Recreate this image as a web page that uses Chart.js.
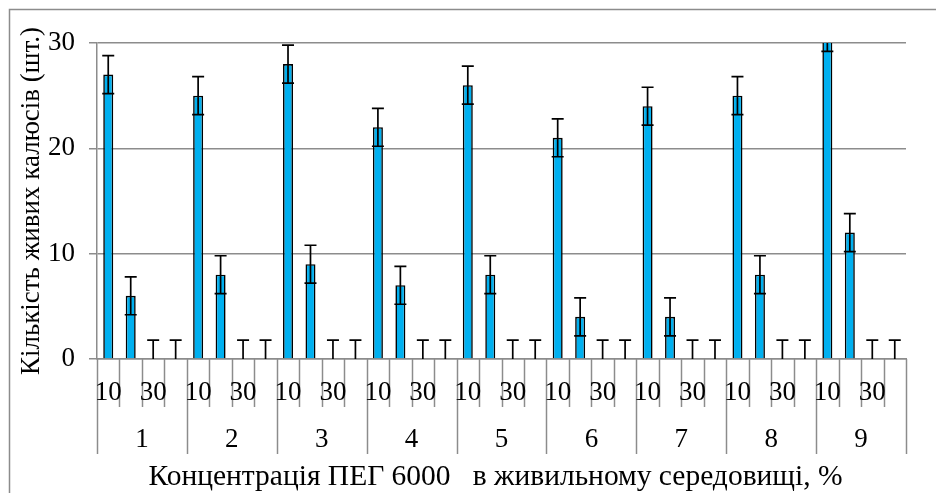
<!DOCTYPE html>
<html><head><meta charset="utf-8">
<script src="https://cdn.jsdelivr.net/npm/chart.js@4/dist/chart.umd.min.js"></script>
<style>html,body{margin:0;padding:0;background:#fff}#wrap{width:936px;height:493px;position:relative}</style>
</head><body><div id="wrap"><canvas id="c"></canvas></div>
<script>
const groups = ['1','2','3','4','5','6','7','8','9'];
const concentrations = ['10','20','30','40'];
const shownConcentrationLabels = ['10','30'];
const count10 = [27,25,28,22,26,21,24,25,31];
const count20 = [6,8,9,7,8,4,4,8,12];
const count30 = [0,0,0,0,0,0,0,0,0];
const count40 = [0,0,0,0,0,0,0,0,0];
const err10 = [1.8,1.8,1.8,1.8,1.8,1.8,1.8,1.8,1.8];
const err20 = [1.8,1.8,1.8,1.8,1.8,1.8,1.8,1.8,1.8];
const err30 = [1.8,1.8,1.8,1.8,1.8,1.8,1.8,1.8,1.8];
const err40 = [1.8,1.8,1.8,1.8,1.8,1.8,1.8,1.8,1.8];
const yTicks = [0,10,20,30];
const xTitle = 'Концентрація ПЕГ 6000   в живильному середовищі, %';
const yTitle = 'Кількість живих калюсів (шт.)';

const seriesByConc = [count10, count20, count30, count40];
const errByConc = [err10, err20, err30, err40];
const labels = [], values = [], errors = [], groupOf = [];
groups.forEach((g, gi) => {
  concentrations.forEach((c, ci) => {
    labels.push(c);
    values.push(seriesByConc[ci][gi]);
    errors.push(errByConc[ci][gi]);
    groupOf.push(g);
  });
});

const SERIF = "'Liberation Serif','Times New Roman',serif";
const GRAY = '#8c8c8c';

const framePlugin = {
  id: 'frame',
  beforeDraw(chart) {
    const ctx = chart.ctx;
    ctx.save();
    ctx.strokeStyle = GRAY;
    ctx.lineWidth = 1.5;
    ctx.strokeRect(9.5, 9.5, chart.width + 20, chart.height + 20);
    ctx.restore();
  }
};

const errorBarPlugin = {
  id: 'errorBars',
  afterDatasetsDraw(chart) {
    const ctx = chart.ctx, xs = chart.scales.x, ys = chart.scales.y, a = chart.chartArea;
    ctx.save();
    ctx.beginPath();
    ctx.rect(a.left, a.top, a.right - a.left, a.bottom - a.top);
    ctx.clip();
    ctx.strokeStyle = '#000';
    ctx.lineWidth = 1.7;
    const cap = 6;
    values.forEach((v, i) => {
      const x = xs.getPixelForValue(i);
      const yt = ys.getPixelForValue(v + errors[i]);
      const yb = ys.getPixelForValue(v - errors[i]);
      ctx.beginPath();
      ctx.moveTo(x, yt); ctx.lineTo(x, yb);
      ctx.moveTo(x - cap, yt); ctx.lineTo(x + cap, yt);
      ctx.moveTo(x - cap, yb); ctx.lineTo(x + cap, yb);
      ctx.stroke();
    });
    ctx.restore();
  }
};

const categoryAxisPlugin = {
  id: 'categoryAxis',
  afterDraw(chart) {
    const ctx = chart.ctx, xs = chart.scales.x, a = chart.chartArea;
    const step = xs.getPixelForValue(1) - xs.getPixelForValue(0);
    const n = labels.length, per = concentrations.length;
    ctx.save();
    ctx.strokeStyle = GRAY;
    ctx.lineWidth = 1.5;
    for (let i = 0; i <= n; i++) {
      const bx = Math.round(xs.getPixelForValue(i) - step / 2) + 0.5;
      const isGroup = i % per === 0;
      ctx.beginPath();
      ctx.moveTo(bx, a.bottom);
      ctx.lineTo(bx, isGroup ? a.bottom + 95 : a.bottom + 48);
      ctx.stroke();
    }
    ctx.fillStyle = '#000';
    ctx.textAlign = 'center';
    ctx.textBaseline = 'alphabetic';
    ctx.font = '27px ' + SERIF;
    labels.forEach((l, i) => {
      if (shownConcentrationLabels.includes(l)) {
        ctx.fillText(l, xs.getPixelForValue(i), a.bottom + 41);
      }
    });
    groups.forEach((g, gi) => {
      const x0 = xs.getPixelForValue(gi * per) - step / 2;
      const x1 = xs.getPixelForValue(gi * per + per - 1) + step / 2;
      ctx.fillText(g, (x0 + x1) / 2, a.bottom + 88);
    });
    ctx.font = '29.5px ' + SERIF;
    ctx.fillText(xTitle, (a.left + a.right) / 2 - 6, a.bottom + 126);
    ctx.restore();
  }
};

new Chart(document.getElementById('c'), {
  type: 'bar',
  data: {
    labels: labels,
    datasets: [{
      data: values,
      backgroundColor: '#00B0F0',
      borderColor: '#000',
      borderWidth: 1.6,
      barPercentage: 0.445,
      categoryPercentage: 1.0
    }]
  },
  options: {
    responsive: true,
    maintainAspectRatio: false,
    animation: false,
    devicePixelRatio: 1,
    layout: { padding: { left: 10, top: 43, right: 30, bottom: 134 } },
    plugins: { legend: { display: false }, tooltip: { enabled: false } },
    scales: {
      x: {
        ticks: { display: false },
        grid: { display: false },
        border: { display: true, color: GRAY, width: 1.5 },
        afterFit(s) { s.height = 0; }
      },
      y: {
        min: 0, max: 30,
        afterBuildTicks(s) { s.ticks = yTicks.map(v => ({ value: v })); },
        ticks: { color: '#000', font: { family: SERIF, size: 27 }, padding: 14 },
        grid: { color: GRAY, lineWidth: 1.5, tickLength: 8 },
        border: { display: true, color: GRAY, width: 1.5 },
        title: { display: true, text: yTitle, color: '#000', font: { family: SERIF, size: 27 }, padding: { top: 6, bottom: 0 } },
        afterFit(s) { s.width = 87; }
      }
    }
  },
  plugins: [framePlugin, errorBarPlugin, categoryAxisPlugin]
});
</script>
</body></html>
